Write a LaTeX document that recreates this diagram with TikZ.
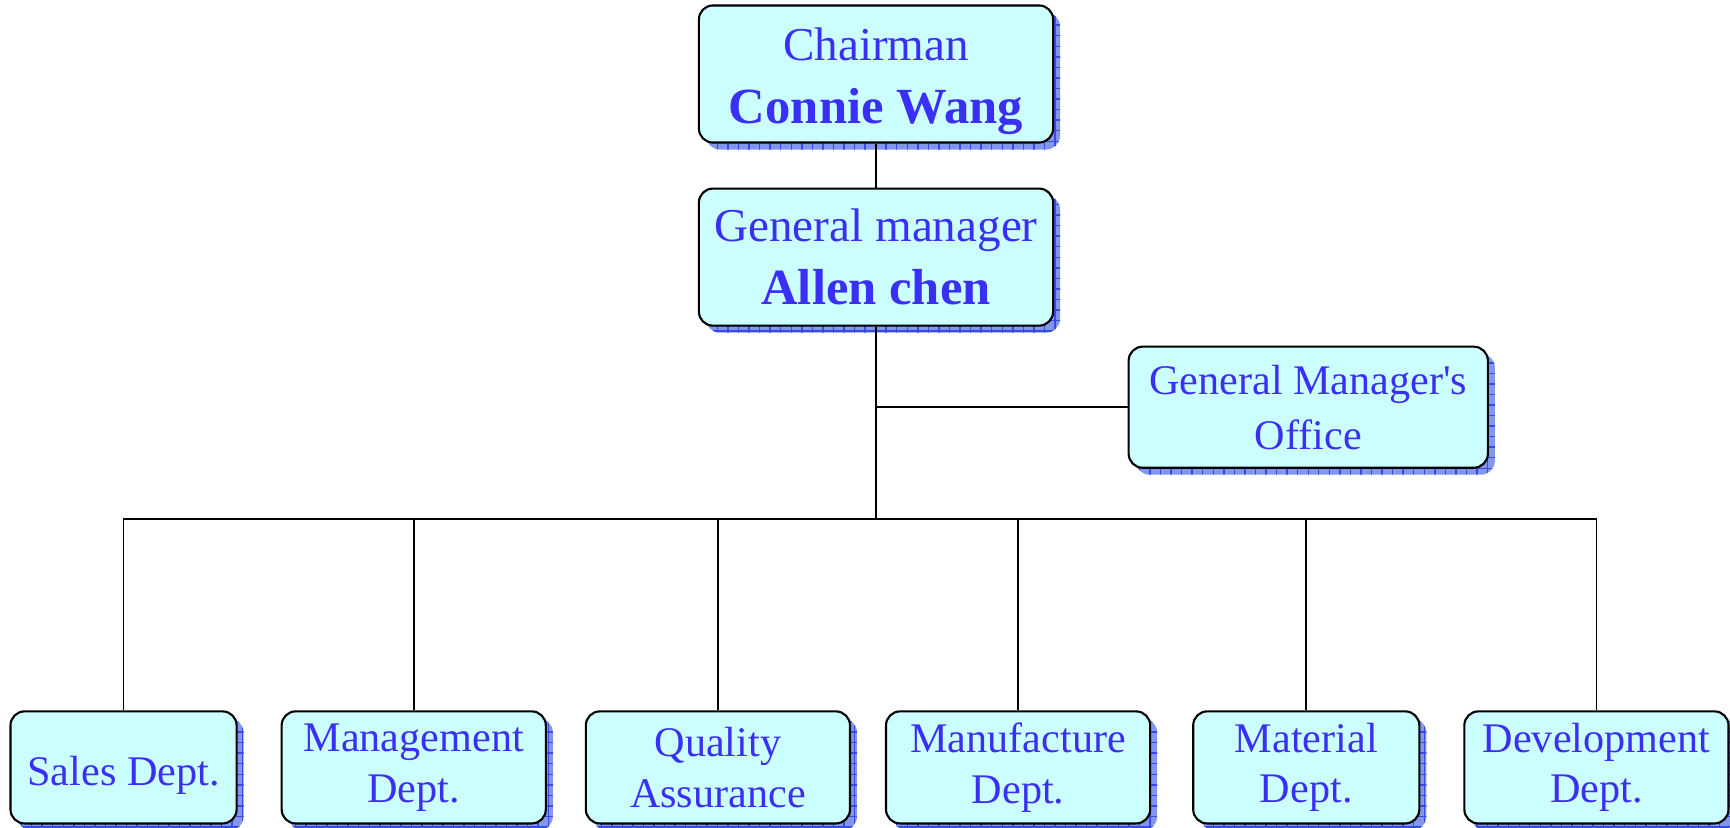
\documentclass[tikz,border=0pt]{standalone}
\usepackage{fontspec}
\setmainfont{Liberation Serif}
\usetikzlibrary{positioning,shadows,patterns}
\definecolor{boxfill}{RGB}{204,255,255}
\definecolor{textblue}{RGB}{58,48,245}
\definecolor{shadowblue}{RGB}{130,150,238}
\definecolor{gridblue}{RGB}{55,75,225}
\newcommand\bigname{\fontsize{14.4}{17.6}\selectfont}
\tikzstyle{link} = [draw, line width=0.45pt]
\tikzstyle{trunk} = [draw, line width=0.8pt]
\tikzstyle{every box} = [draw, line width=0.6pt, rounded corners=0.14cm, fill=boxfill, text=textblue, align=center, inner sep=0pt, general shadow={shadow xshift=0.07cm, shadow yshift=-0.07cm, fill=shadowblue, postaction={pattern=grid, pattern color=gridblue}}]
\tikzstyle{head} = [every box, minimum width=3.54cm, minimum height=1.37cm, font=\fontsize{13.4}{17.8}\selectfont]
\tikzstyle{side} = [every box, minimum width=3.59cm, minimum height=1.21cm, font=\fontsize{12}{15.6}\selectfont]
\tikzstyle{dept} = [every box, minimum width=2.64cm, minimum height=1.12cm, font=\fontsize{12}{14.4}\selectfont, execute at begin node={\rule{0pt}{13pt}}]

\begin{document}
\begin{tikzpicture}[x=0.01cm, y=0.01cm]
\useasboundingbox (0,0) rectangle (1730,-827);

% Chairman and general manager

\node[head] (chairman) at (876,-74) {\rule{0pt}{13.5pt}Chairman\\\textbf{\bigname Connie Wang}};

\node[head] (gm) [below of=chairman, node distance=1.83cm] {General manager\\\textbf{\bigname Allen chen}};

% Office beside the trunk

\node[side] (office) [below of=gm, node distance=1.50cm, xshift=4.32cm] {General Manager\textquotesingle s\\Office};

% Departments

\node[dept, minimum width=2.26cm] (sales) [below of=gm, node distance=5.10cm, xshift=-7.52cm] {Sales Dept.};

\node[dept] (management) [below of=gm, node distance=5.10cm, xshift=-4.62cm] {Management\\Dept.};

\node[dept] (quality) [below of=gm, node distance=5.10cm, xshift=-1.58cm] {Quality\\Assurance};

\node[dept] (manufacture) [below of=gm, node distance=5.10cm, xshift=1.42cm] {Manufacture\\Dept.};

\node[dept, minimum width=2.26cm] (material) [below of=gm, node distance=5.10cm, xshift=4.30cm] {Material\\Dept.};

\node[dept] (development) [below of=gm, node distance=5.10cm, xshift=7.20cm] {Development\\Dept.};

% Lines

\draw[link] (chairman) -- (gm);
\draw[trunk] (gm.south) -- ++(0,-192) coordinate (hub);
\draw[link] (gm.south |- office.west) -- (office.west);
\foreach \dept in {sales,management,quality,manufacture,material,development}
  \draw[link] (hub) -| (\dept.north);

\end{tikzpicture}
\end{document}
